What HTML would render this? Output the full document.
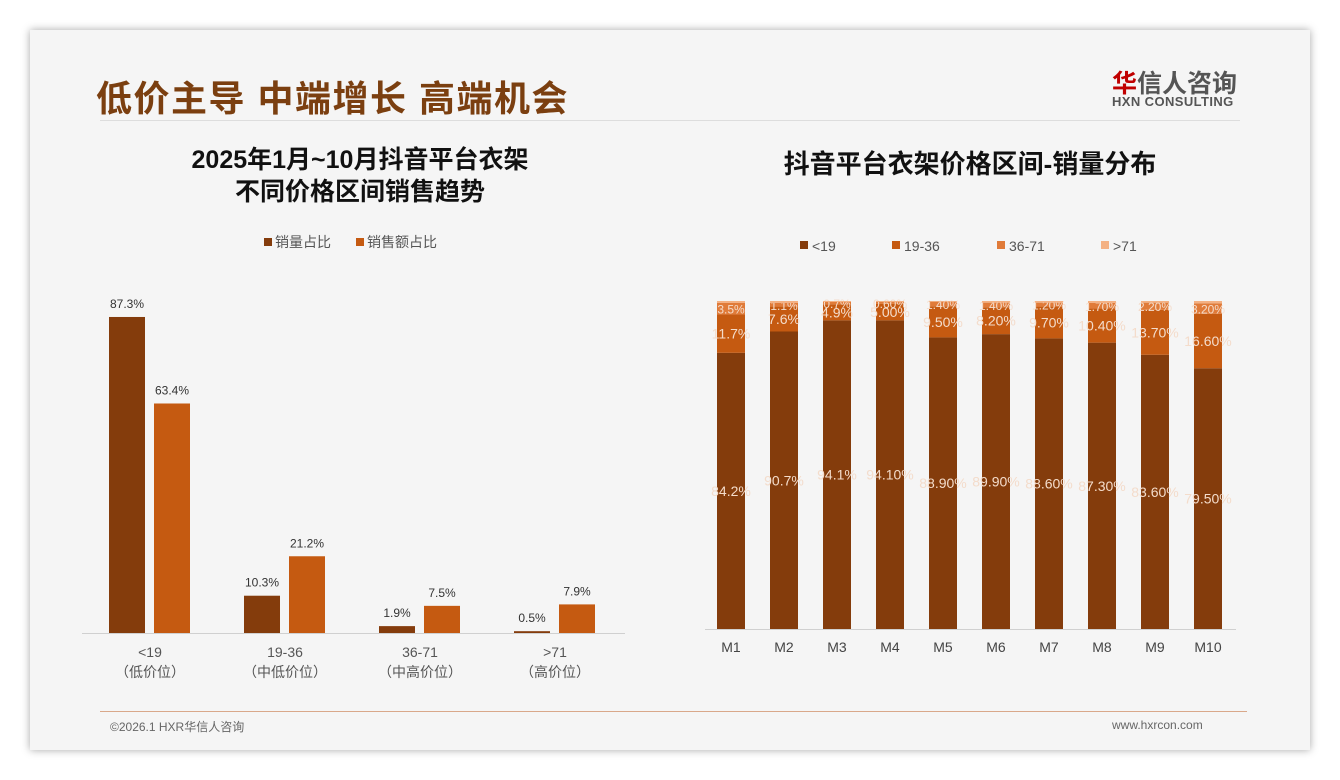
<!DOCTYPE html>
<html><head><meta charset="utf-8">
<style>
body{margin:0;width:1340px;height:780px;background:#fff;font-family:"Liberation Sans","Noto Sans CJK SC",sans-serif;position:relative;overflow:hidden}
#card{position:absolute;left:30px;top:30px;width:1280px;height:720px;background:#f5f5f5;box-shadow:0 0 8px rgba(0,0,0,.35)}
.t{position:absolute;white-space:nowrap}
</style></head><body>
<div id="card"></div>
<div class="t" style="left:96px;top:70px;font-size:36px;font-weight:bold;color:#7b3f10;letter-spacing:1.5px">低价主导 中端增长 高端机会</div>
<div class="t" style="left:1112px;top:64px;font-size:25px;color:#555;font-weight:bold"><span style="color:#c00000">华</span>信人咨询</div>
<div class="t" style="left:1112px;top:94px;font-size:13px;color:#555;font-weight:bold;letter-spacing:0.4px">HXN CONSULTING</div>
<div style="position:absolute;left:100px;top:120px;width:1140px;height:1px;background:#ddd"></div>
<div class="t" style="left:100px;width:520px;top:144px;text-align:center;font-size:25px;font-weight:bold;line-height:32px;color:#111">2025年1月~10月抖音平台衣架<br>不同价格区间销售趋势</div>
<div class="t" style="left:700px;width:540px;top:144px;text-align:center;font-size:26px;font-weight:bold;color:#111">抖音平台衣架价格区间-销量分布</div>
<div style="position:absolute;left:100px;top:711px;width:1147px;height:1px;background:#d9a88a"></div>
<div class="t" style="left:110px;top:718px;font-size:12px;color:#666">©2026.1 HXR华信人咨询</div>
<div class="t" style="left:1112px;top:718px;font-size:12px;color:#666">www.hxrcon.com</div>
<svg id="chart" width="1340" height="780" style="position:absolute;left:0;top:0"></svg>
<script>
const leftCats=["<19","19-36","36-71",">71"];
const leftSub=["（低价位）","（中低价位）","（中高价位）","（高价位）"];
const volShare=[87.3,10.3,1.9,0.5];
const amtShare=[63.4,21.2,7.5,7.9];
const months=["M1","M2","M3","M4","M5","M6","M7","M8","M9","M10"];
const s1=[84.2,90.7,94.1,94.1,88.9,89.9,88.6,87.3,83.6,79.5];
const s2=[11.7,7.6,4.9,5.0,9.5,8.2,9.7,10.4,13.7,16.6];
const s3=[3.5,1.1,0.7,0.6,1.4,1.4,1.2,1.7,2.2,3.2];
const s4=[0.6,0.6,0.3,0.3,0.2,0.5,0.5,0.6,0.5,0.7];
const s1Labels=["84.2%","90.7%","94.1%","94.10%","88.90%","89.90%","88.60%","87.30%","83.60%","79.50%"];
const s2Labels=["11.7%","7.6%","4.9%","5.00%","9.50%","8.20%","9.70%","10.40%","13.70%","16.60%"];
const s3Labels=["3.5%","1.1%","0.7%","0.60%","1.40%","1.40%","1.20%","1.70%","2.20%","3.20%"];
const C=["#843c0c","#c55a11","#e07b39","#f4b183"];
const svg=document.getElementById('chart');
const NS="http://www.w3.org/2000/svg";
function mk(tag,attrs,txt){const e=document.createElementNS(NS,tag);for(const k in attrs)e.setAttribute(k,attrs[k]);if(txt!==undefined)e.textContent=txt;svg.appendChild(e);return e;}
const lBase=633,lScale=3.62;
const ly=v=>lBase-v*lScale;
const lx=i=>150+i*135;
leftCats.forEach((c,i)=>{
 let b=mk('rect',{x:lx(i)-41,y:ly(volShare[i]),width:36,height:volShare[i]*lScale,fill:C[0]});
 
 let t=mk('text',{x:lx(i)-23,y:ly(volShare[i])-9,'font-size':12,fill:'#333','text-anchor':'middle'},volShare[i]+'%');
 
 let b2=mk('rect',{x:lx(i)+4,y:ly(amtShare[i]),width:36,height:amtShare[i]*lScale,fill:C[1]});
 
 let t2=mk('text',{x:lx(i)+22,y:ly(amtShare[i])-9,'font-size':12,fill:'#333','text-anchor':'middle'},amtShare[i]+'%');
 
 let a=mk('text',{x:lx(i),y:657,'font-size':14,fill:'#555','text-anchor':'middle'},c);
 
 let a2=mk('text',{x:lx(i),y:677,'font-size':14,fill:'#555','text-anchor':'middle'},leftSub[i]);
 
});
let ax=mk('line',{x1:82,x2:625,y1:lBase+0.5,y2:lBase+0.5,stroke:'#d0d0d0'});

[["销量占比",C[0],264],["销售额占比",C[1],356]].forEach((l,i)=>{
 let r=mk('rect',{x:l[2],y:238,width:8,height:8,fill:l[1]});
 
 let t=mk('text',{x:l[2]+11,y:247,'font-size':14,fill:'#555'},l[0]);
 
});
const rBase=629,rScale=3.28;
const rx=i=>731+i*53;
const series=[s1,s2,s3,s4];
months.forEach((m,i)=>{
 let acc=0;
 series.forEach((s,k)=>{
  const h=s[i]*rScale;
  let r=mk('rect',{x:rx(i)-14,y:rBase-(acc+s[i])*rScale,width:28,height:h,fill:C[k]});
  
  const lab=[s1Labels,s2Labels,s3Labels][k];
  if(lab){
   const cy=rBase-(acc+s[i]/2)*rScale+5;
   let t=mk('text',{x:rx(i),y:cy,'font-size':k==2?12:14,fill:'#f4dccb','text-anchor':'middle'},lab[i]);
   
  }
  acc+=s[i];
 });
 let a=mk('text',{x:rx(i),y:652,'font-size':14,fill:'#444','text-anchor':'middle'},m);
 
});
let ax2=mk('line',{x1:705,x2:1236,y1:rBase+0.5,y2:rBase+0.5,stroke:'#d0d0d0'});

[["<19",800],["19-36",892],["36-71",997],[">71",1101]].forEach((l,i)=>{
 let r=mk('rect',{x:l[1],y:241,width:8,height:8,fill:C[i]});
 
 let t=mk('text',{x:l[1]+12,y:251,'font-size':14,fill:'#555'},l[0]);
 
});
</script>
</body></html>
